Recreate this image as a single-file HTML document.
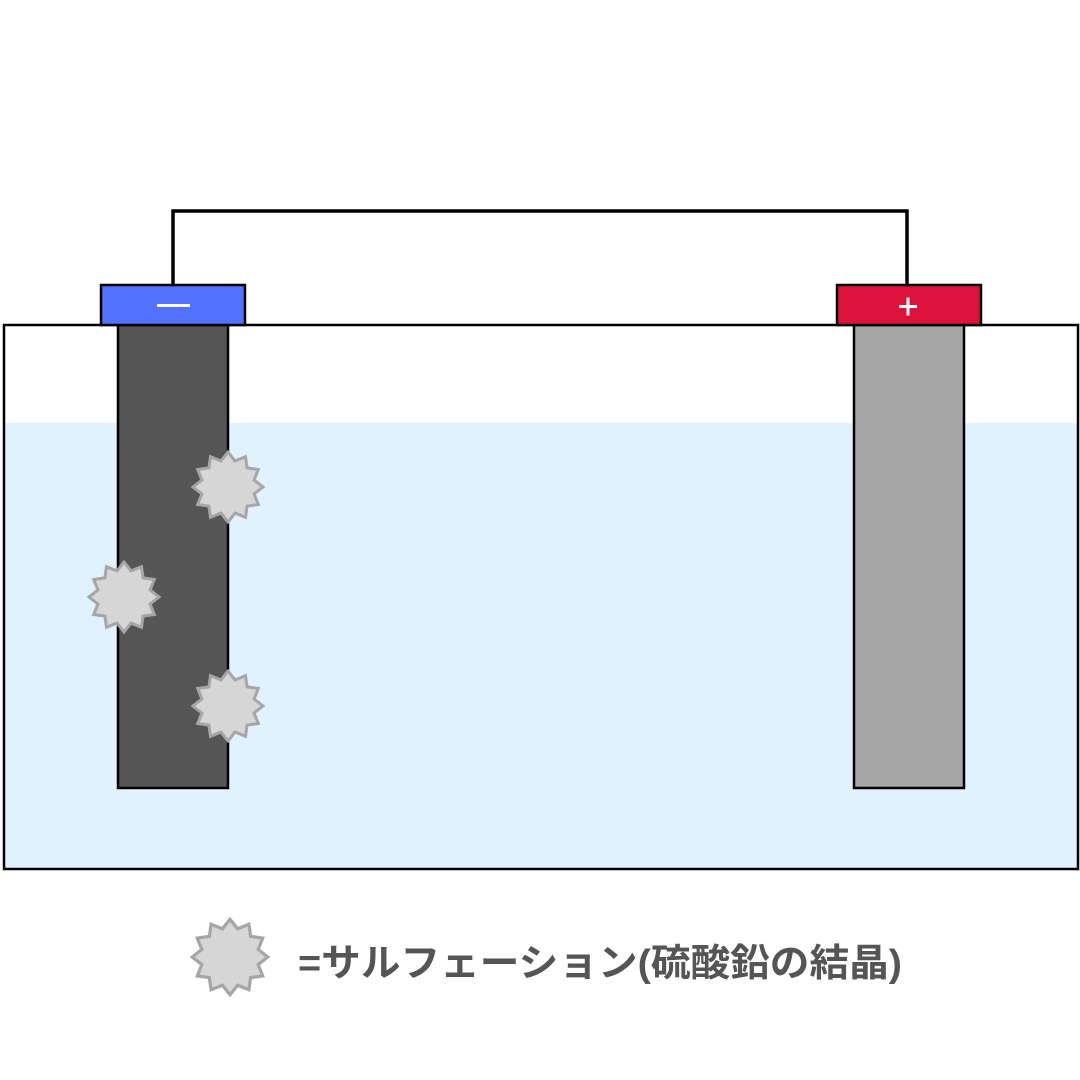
<!DOCTYPE html>
<html><head><meta charset="utf-8"><style>html,body{margin:0;padding:0;background:#fff}svg{display:block}</style></head>
<body>
<svg width="1080" height="1080" viewBox="0 0 1080 1080" xmlns="http://www.w3.org/2000/svg">
<defs>
<polygon id="st" points="35,0 26.1,7 30.3,17.5 19.1,19.1 17.5,30.3 7,26.1 0,35 -7,26.1 -17.5,30.3 -19.1,19.1 -30.3,17.5 -26.1,7 -35,0 -26.1,-7 -30.3,-17.5 -19.1,-19.1 -17.5,-30.3 -7,-26.1 0,-35 7,-26.1 17.5,-30.3 19.1,-19.1 30.3,-17.5 26.1,-7" fill="#d6d6d6" stroke="#a6a6a6" stroke-width="3"/>
</defs>
<rect width="1080" height="1080" fill="#fff"/>
<rect x="4" y="423" width="1074" height="446" fill="#e0f2fd"/>
<rect x="4" y="325" width="1074" height="544" fill="none" stroke="#000" stroke-width="2.5"/>
<polyline points="173,285 173,211 907,211 907,285" fill="none" stroke="#000" stroke-width="3.5"/>
<rect x="118" y="325" width="110" height="463" fill="#555" stroke="#000" stroke-width="2.5"/>
<rect x="854" y="325" width="110" height="463" fill="#a6a6a6" stroke="#000" stroke-width="2.5"/>
<rect x="101" y="285" width="144" height="40" fill="#4f73ff" stroke="#000" stroke-width="2.5"/>
<rect x="837" y="285" width="144" height="40" fill="#dc143c" stroke="#000" stroke-width="2.5"/>
<rect x="157" y="304" width="33" height="3" fill="#fff"/>
<rect x="899" y="305" width="18" height="3" fill="#fff"/>
<rect x="906.5" y="297.5" width="3" height="18" fill="#fff"/>
<use href="#st" x="228" y="487"/>
<use href="#st" x="124" y="597"/>
<use href="#st" x="228" y="706"/>
<g transform="translate(230,957) scale(1.08)"><use href="#st"/></g>
<text x="298" y="976" font-family="'Liberation Sans','Noto Sans CJK JP',sans-serif" font-weight="bold" font-size="38" fill="#555" textLength="604" lengthAdjust="spacingAndGlyphs">=サルフェーション(硫酸鉛の結晶)</text>
</svg>
</body></html>
